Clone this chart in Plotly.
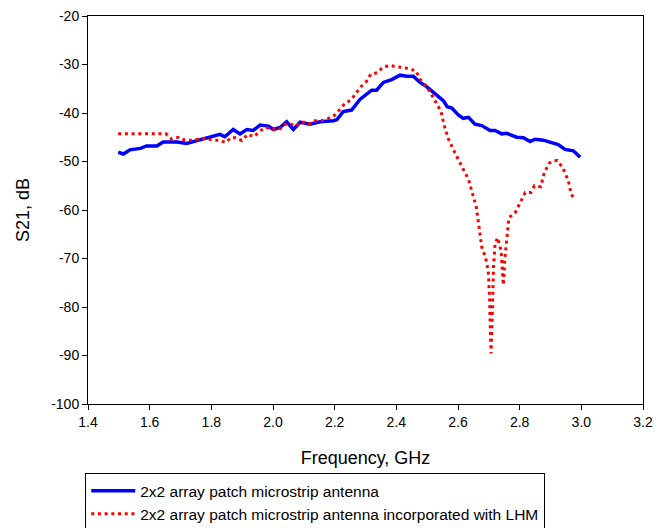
import plotly.graph_objects as go

# Series 1: 2x2 array patch microstrip antenna
freq_plain = [1.498, 1.515, 1.536, 1.57, 1.59, 1.623, 1.644, 1.688, 1.72, 1.753, 1.806, 1.828,
              1.844, 1.871, 1.893, 1.915, 1.936, 1.958, 1.985, 2.001, 2.023, 2.044, 2.066, 2.088,
              2.12, 2.153, 2.196, 2.207, 2.228, 2.255, 2.282, 2.309, 2.32, 2.336, 2.358, 2.385,
              2.412, 2.434, 2.455, 2.477, 2.499, 2.531, 2.553, 2.565, 2.58, 2.601, 2.617, 2.634,
              2.655, 2.677, 2.704, 2.72, 2.742, 2.758, 2.79, 2.812, 2.834, 2.85, 2.877, 2.898,
              2.925, 2.947, 2.974, 2.996]
s21_plain = [-48.1, -48.45, -47.6, -47.3, -46.8, -46.8, -46.0, -46.0, -46.3, -45.7, -44.9, -44.4,
             -44.9, -43.4, -44.3, -43.4, -43.6, -42.5, -42.7, -43.4, -43.0, -41.8, -43.4, -41.9,
             -42.3, -41.8, -41.6, -41.4, -39.7, -39.4, -37.2, -35.9, -35.3, -35.3, -33.7, -33.1,
             -32.2, -32.4, -32.4, -33.7, -34.6, -36.3, -37.5, -38.7, -39.0, -40.4, -41.1, -40.9,
             -42.3, -42.6, -43.6, -43.6, -44.3, -44.2, -45.0, -45.1, -45.9, -45.4, -45.6, -46.0,
             -46.5, -47.5, -47.8, -49.1]

# Series 2: 2x2 array patch microstrip antenna incorporated with LHM
freq_lhm = [1.498, 1.653, 1.671, 1.693, 1.715, 1.737, 1.758, 1.78, 1.804, 1.826, 1.847, 1.863,
            1.879, 1.899, 1.918, 1.938, 1.958, 1.977, 1.999, 2.02, 2.039, 2.057, 2.075, 2.091,
            2.115, 2.136, 2.158, 2.18, 2.201, 2.217, 2.234, 2.253, 2.271, 2.285, 2.304, 2.317,
            2.338, 2.358, 2.38, 2.401, 2.423, 2.445, 2.464, 2.475, 2.493, 2.509, 2.522, 2.533,
            2.545, 2.555, 2.569, 2.59, 2.612, 2.634, 2.647, 2.659, 2.668, 2.677, 2.69, 2.698,
            2.702, 2.707, 2.712, 2.715, 2.72, 2.728, 2.74, 2.747, 2.752, 2.758, 2.765, 2.787,
            2.808, 2.818, 2.836, 2.848, 2.868, 2.88, 2.895, 2.907, 2.922, 2.94, 2.958, 2.967, 2.98]
s21_lhm = [-44.3, -44.3, -45.4, -45.0, -45.6, -45.6, -45.4, -45.2, -45.6, -45.6, -46.1, -45.1,
           -45.1, -45.7, -44.4, -44.9, -43.7, -43.0, -43.4, -43.4, -42.3, -42.3, -42.7, -41.8,
           -42.3, -41.6, -41.6, -41.1, -40.4, -39.2, -38.0, -37.3, -35.9, -34.6, -33.4, -32.0,
           -31.7, -30.5, -30.2, -30.5, -30.6, -31.0, -31.3, -32.9, -34.2, -35.6, -37.0, -38.4,
           -39.7, -42.5, -45.4, -48.2, -50.9, -53.7, -56.6, -59.3, -63.4, -67.6, -70.0, -72.5,
           -77.4, -89.6, -80.0, -72.0, -67.1, -65.7, -68.5, -75.5, -70.0, -65.8, -61.6, -60.4,
           -57.6, -56.4, -56.4, -55.0, -55.2, -52.3, -50.4, -49.9, -49.8, -51.3, -54.0, -56.8, -57.8]

x_ticks = [1.4, 1.6, 1.8, 2.0, 2.2, 2.4, 2.6, 2.8, 3.0, 3.2]
y_ticks = [-20, -30, -40, -50, -60, -70, -80, -90, -100]

font_family = "Liberation Sans, Arial, sans-serif"

fig = go.Figure()
fig.add_trace(go.Scatter(
    x=freq_plain, y=s21_plain, mode="lines",
    name="2x2 array patch microstrip antenna",
    line=dict(color="#0000ff", width=3.5),
))
fig.add_trace(go.Scatter(
    x=freq_lhm, y=s21_lhm, mode="lines",
    name="2x2 array patch microstrip antenna incorporated with LHM",
    line=dict(color="#ff0000", width=3, dash="3px,3.7px"),
))

axis_common = dict(
    showgrid=False, zeroline=False, showline=True, linecolor="black", linewidth=1,
    mirror=True, ticks="outside", ticklen=5, tickcolor="black",
    tickfont=dict(family=font_family, size=14, color="black"),
)

fig.update_layout(
    width=665, height=528,
    margin=dict(l=88, r=22, t=16, b=124, autoexpand=False),
    paper_bgcolor="white", plot_bgcolor="white",
    font=dict(family=font_family, size=14, color="black"),
    xaxis=dict(range=[1.4, 3.2], tickvals=x_ticks,
               ticktext=[f"{v:.1f}" for v in x_ticks],
               title=dict(text="Frequency, GHz", font=dict(size=18), standoff=22),
               **axis_common),
    yaxis=dict(range=[-100, -20], tickvals=y_ticks,
               ticktext=[str(v) for v in y_ticks],
               title=dict(text="S21, dB", font=dict(size=18), standoff=16),
               **axis_common),
    showlegend=True,
    legend=dict(x=-0.005, y=-0.178, xanchor="left", yanchor="top",
                bordercolor="black", borderwidth=1, bgcolor="white",
                font=dict(family=font_family, size=15.5, color="black"),
                itemwidth=44, tracegroupgap=0),
)

fig.write_html("out.html")
